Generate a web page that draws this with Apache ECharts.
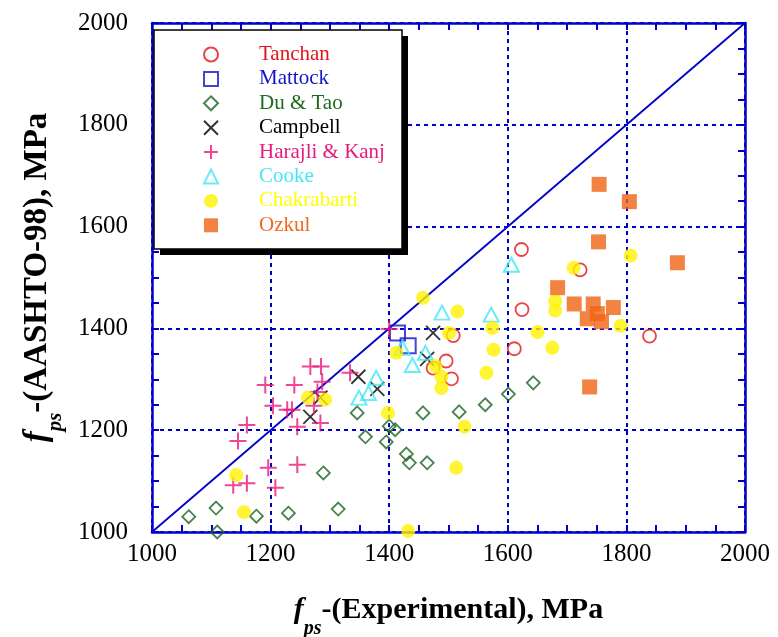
<!DOCTYPE html>
<html><head><meta charset="utf-8">
<script src="https://cdn.jsdelivr.net/npm/echarts@6/dist/echarts.min.js"></script>
<style>html,body{margin:0;padding:0;background:#fff}#c{width:778px;height:637px}</style>
</head><body><div id="c"></div>
<script>
const axisMin = 1000, axisMax = 2000, axisStep = 200;
const seriesNames = ['Tanchan','Mattock','Du & Tao','Campbell','Harajli & Kanj','Cooke','Chakrabarti','Ozkul'];
const tanchan = [[1623,1555],[1624,1437],[1611,1360],[1722,1515],[1839,1385],[1508,1386],[1496,1336],[1474,1322],[1505,1301]];
const mattock = [[1414,1391],[1432,1366]];
const duTao = [[1062,1030],[1108,1047],[1110,1000],[1176,1031],[1230,1037],[1289,1116],[1314,1045],[1346,1234],[1360,1187],[1395,1177],[1400,1208],[1410,1201],[1429,1153],[1434,1136],[1464,1136],[1457,1234],[1518,1236],[1562,1250],[1601,1271],[1643,1293]];
const campbell = [[1267,1226],[1284,1264],[1348,1305],[1380,1281],[1474,1391],[1464,1340]];
const harajli = [[1191,1289],[1240,1289],[1204,1248],[1228,1240],[1236,1240],[1245,1207],[1160,1210],[1145,1179],[1245,1132],[1196,1126],[1208,1087],[1160,1096],[1137,1092],[1267,1325],[1285,1325],[1287,1295],[1284,1214],[1334,1313],[1279,1275],[1273,1248],[1400,1399]];
const cooke = [[1489,1431],[1422,1362],[1439,1328],[1461,1352],[1378,1303],[1365,1273],[1349,1264],[1606,1525],[1572,1427]];
const chakrabarti = [[1142,1112],[1155,1039],[1263,1264],[1292,1260],[1457,1460],[1515,1433],[1501,1391],[1412,1352],[1478,1326],[1488,1305],[1488,1283],[1574,1401],[1576,1358],[1564,1313],[1398,1234],[1527,1207],[1513,1126],[1432,1002],[1650,1393],[1711,1519],[1680,1454],[1680,1435],[1675,1362],[1807,1543],[1790,1405]];
const ozkul = [[1754,1683],[1805,1649],[1753,1570],[1886,1529],[1684,1480],[1712,1448],[1744,1448],[1751,1429],[1778,1441],[1734,1419],[1758,1413],[1738,1285]];
const equalityLine = [[1000,1000],[2000,2000]];

const BLUE = '#0000cc';
const SERIF = 'Liberation Serif';
const colors = ['#e3141c','#1414cc','#1a6420','#000000','#e8197c','#44e6f6','#fff200','#f06414'];
const textColors = ['#e3141c','#1414cc','#1d6b22','#000000','#e8197c','#44e6f6','#ffff00','#f06a1e'];
const PLUS = 'path://M5,0L5,10M0,5L10,5';
const CROSS = 'path://M0,0L10,10M10,0L0,10';

function hollow(name, data, symbol, size, color, bw) {
  return { type:'scatter', name, data, symbol, symbolSize:size, z:3,
    itemStyle:{ color:'rgba(0,0,0,0)', borderColor:color, borderWidth:bw } };
}
function filled(name, data, symbol, size, color) {
  return { type:'scatter', name, data, symbol, symbolSize:size, z:3,
    itemStyle:{ color:color, borderColor:color, borderWidth:0 } };
}

const chart = echarts.init(document.getElementById('c'), null, {renderer:'canvas'});
const axisCommon = {
  type:'value', min:axisMin, max:axisMax, interval:axisStep,
  axisLine:{ show:true, onZero:false, lineStyle:{ color:BLUE, width:2.5 } },
  axisTick:{ show:true, inside:true, length:7, lineStyle:{ color:BLUE, width:2 } },
  minorTick:{ show:true, splitNumber:4, length:7, lineStyle:{ color:BLUE, width:2 } },
};
function nameRich(main, sub) {
  return {
    f:{ fontFamily:SERIF, fontSize:main, fontStyle:'italic', fontWeight:'bold', color:'#000', lineHeight:58, verticalAlign:'middle' },
    s:{ fontFamily:SERIF, fontSize:sub, fontStyle:'italic', fontWeight:'bold', color:'#000', lineHeight:sub, verticalAlign:'bottom' },
    t:{ fontFamily:SERIF, fontSize:main, fontWeight:'bold', color:'#000', lineHeight:58, verticalAlign:'middle' }
  };
}
const plainLabel = v => String(v);
chart.setOption({
  animation:false,
  backgroundColor:'#ffffff',
  grid:{ left:152, right:33, top:23, bottom:105, containLabel:false, outerBoundsMode:'none' },
  xAxis:[
    Object.assign({}, axisCommon, {
      position:'bottom',
      axisLabel:{ show:true, margin:10, fontFamily:SERIF, fontSize:25, color:'#000', formatter:plainLabel },
      splitLine:{ show:true, lineStyle:{ color:BLUE, width:2, type:[4,4] } },
      name:'{f|f}{s|ps}{t|-(Experimental), MPa}', nameLocation:'middle', nameGap:49,
      nameTextStyle:{ rich:nameRich(30, 20) }
    }),
    Object.assign({}, axisCommon, { position:'top', axisLabel:{show:false}, splitLine:{show:false} })
  ],
  yAxis:[
    Object.assign({}, axisCommon, {
      position:'left',
      axisLabel:{ show:true, margin:24, fontFamily:SERIF, fontSize:25, color:'#000', formatter:plainLabel },
      splitLine:{ show:true, lineStyle:{ color:BLUE, width:2, type:[4,4] } },
      name:'{f|f}{s|ps}{t|-(AASHTO-98), MPa}', nameLocation:'middle', nameGap:86,
      nameTextStyle:{ rich:nameRich(33, 21) }
    }),
    Object.assign({}, axisCommon, { position:'right', axisLabel:{show:false}, splitLine:{show:false} })
  ],
  graphic:[
    { type:'rect', z:10, shape:{ x:160, y:36, width:248, height:219 }, style:{ fill:'#000' } },
    { type:'rect', z:11, shape:{ x:154, y:30, width:248, height:219 }, style:{ fill:'#fff', stroke:'#000', lineWidth:1.5 } }
  ],
  legend:{
    orient:'vertical', left:203, top:44, padding:0, z:20,
    itemWidth:14, itemHeight:14, itemGap:3.4,
    selectedMode:false,
    formatter: n => '{sp| }' + n,
    textStyle:{ fontFamily:SERIF, fontSize:21, lineHeight:20, rich:{ sp:{ width:36, fontSize:21, lineHeight:20 } } },
    data: seriesNames.map((n,i)=>({ name:n, textStyle:{ color:textColors[i] } }))
  },
  series:[
    { type:'line', data:equalityLine, symbol:'none', z:2, silent:true, lineStyle:{ color:BLUE, width:1.8 } },
    hollow(seriesNames[0], tanchan, 'circle', 13, colors[0], 1.8),
    hollow(seriesNames[1], mattock, 'rect', 15, colors[1], 2),
    hollow(seriesNames[2], duTao, 'diamond', 13, colors[2], 1.8),
    hollow(seriesNames[3], campbell, CROSS, 14, colors[3], 1.8),
    hollow(seriesNames[4], harajli, PLUS, 17, colors[4], 2),
    hollow(seriesNames[5], cooke, 'triangle', [15,14], colors[5], 2),
    filled(seriesNames[6], chakrabarti, 'circle', 14, colors[6]),
    filled(seriesNames[7], ozkul, 'rect', 15, colors[7])
  ]
});
</script></body></html>
